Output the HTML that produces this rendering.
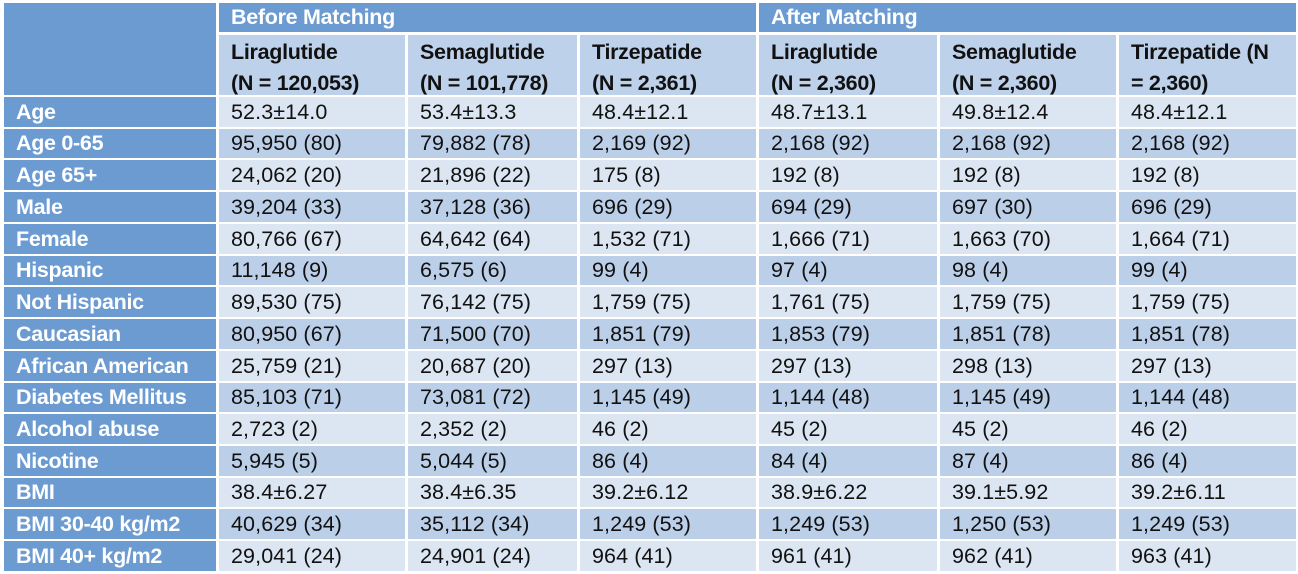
<!DOCTYPE html>
<html><head><meta charset="utf-8"><style>
body{margin:0;width:1298px;height:574px;background:#fff;overflow:hidden;font-family:"Liberation Sans",Arial,sans-serif;}
.c{position:absolute;box-sizing:border-box;padding-left:12px;display:flex;align-items:center;font-size:21.5px;color:#111;white-space:nowrap;letter-spacing:0.1px}
.h{background:#6b9bd1;color:#fff;font-weight:bold;letter-spacing:-0.3px}
.s{background:#bed1ea;font-weight:bold;line-height:31px;align-items:flex-start;padding-top:2px;letter-spacing:-0.3px}
.l{background:#6b9bd1;color:#fff;font-weight:bold;letter-spacing:-0.3px}
.a{background:#dce6f2}.b{background:#bccfe9}
</style></head><body>
<div id="t"></div>
<script>
const colEdges=[[4,216],[219,405],[408,577],[580,756],[759,937],[940,1116],[1119,1296]];
const groups=["Before Matching","After Matching"];
const subHeaders=["Liraglutide<br>(N = 120,053)","Semaglutide<br>(N = 101,778)","Tirzepatide<br>(N = 2,361)","Liraglutide<br>(N = 2,360)","Semaglutide<br>(N = 2,360)","Tirzepatide (N<br>= 2,360)"];
const rowLabels=["Age","Age 0-65","Age 65+","Male","Female","Hispanic","Not Hispanic","Caucasian","African American","Diabetes Mellitus","Alcohol abuse","Nicotine","BMI","BMI 30-40 kg/m2","BMI 40+ kg/m2"];
const values=[
["52.3±14.0","53.4±13.3","48.4±12.1","48.7±13.1","49.8±12.4","48.4±12.1"],
["95,950 (80)","79,882 (78)","2,169 (92)","2,168 (92)","2,168 (92)","2,168 (92)"],
["24,062 (20)","21,896 (22)","175 (8)","192 (8)","192 (8)","192 (8)"],
["39,204 (33)","37,128 (36)","696 (29)","694 (29)","697 (30)","696 (29)"],
["80,766 (67)","64,642 (64)","1,532 (71)","1,666 (71)","1,663 (70)","1,664 (71)"],
["11,148 (9)","6,575 (6)","99 (4)","97 (4)","98 (4)","99 (4)"],
["89,530 (75)","76,142 (75)","1,759 (75)","1,761 (75)","1,759 (75)","1,759 (75)"],
["80,950 (67)","71,500 (70)","1,851 (79)","1,853 (79)","1,851 (78)","1,851 (78)"],
["25,759 (21)","20,687 (20)","297 (13)","297 (13)","298 (13)","297 (13)"],
["85,103 (71)","73,081 (72)","1,145 (49)","1,144 (48)","1,145 (49)","1,144 (48)"],
["2,723 (2)","2,352 (2)","46 (2)","45 (2)","45 (2)","46 (2)"],
["5,945 (5)","5,044 (5)","86 (4)","84 (4)","87 (4)","86 (4)"],
["38.4±6.27","38.4±6.35","39.2±6.12","38.9±6.22","39.1±5.92","39.2±6.11"],
["40,629 (34)","35,112 (34)","1,249 (53)","1,249 (53)","1,250 (53)","1,249 (53)"],
["29,041 (24)","24,901 (24)","964 (41)","961 (41)","962 (41)","963 (41)"]];
const t=document.getElementById('t');
function cell(cls,x1,y1,x2,y2,html,name){const d=document.createElement('div');d.className='c '+cls;
d.style.left=x1+'px';d.style.top=y1+'px';d.style.width=(x2-x1)+'px';d.style.height=(y2-y1)+'px';d.innerHTML=html;


t.appendChild(d);}
cell('h',colEdges[0][0],3,colEdges[0][1],95,'','corner-header');
cell('h',colEdges[1][0],3,colEdges[3][1],32,groups[0],'before-matching-header');
cell('h',colEdges[4][0],3,colEdges[6][1],32,groups[1],'after-matching-header');
subHeaders.forEach((s,i)=>cell('s',colEdges[i+1][0],35,colEdges[i+1][1],95,s,'column-header'));
const rh=31.73;
rowLabels.forEach((lab,r)=>{const y1=Math.round(97+r*rh),y2=Math.round(97+(r+1)*rh)-2;
cell('l',colEdges[0][0],y1,colEdges[0][1],y2,lab,'row-label');
values[r].forEach((v,i)=>cell(r%2?'b':'a',colEdges[i+1][0],y1,colEdges[i+1][1],y2,v,'value-cell'));});
</script>
</body></html>
